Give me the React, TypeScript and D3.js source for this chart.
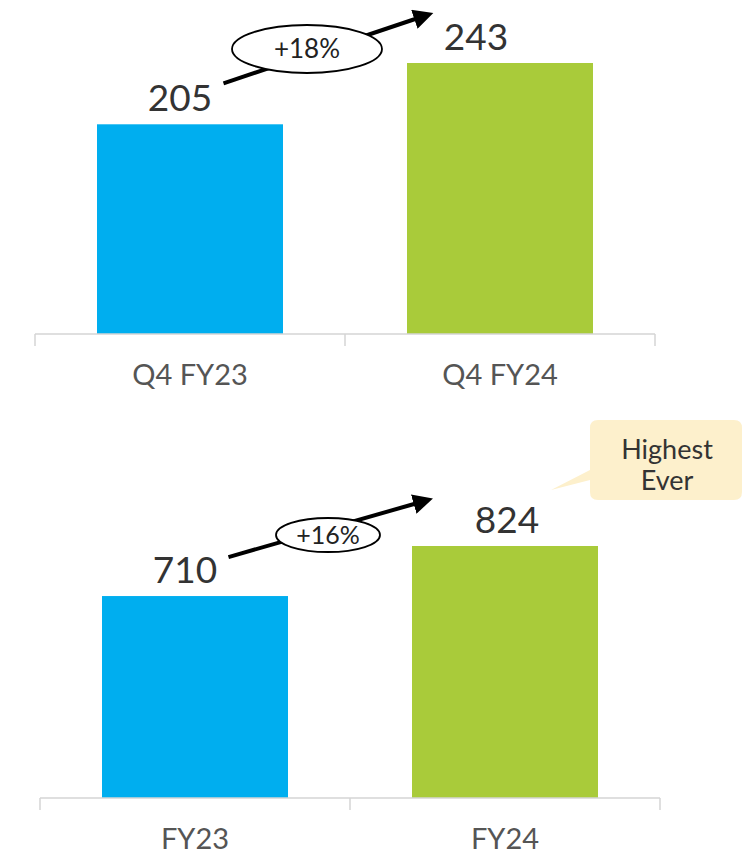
import React from "react";
import * as d3 from "d3";

const quarterCategories = ["Q4 FY23", "Q4 FY24"];
const quarterValues = [205, 243];
const quarterGrowth = "+18%";

const yearCategories = ["FY23", "FY24"];
const yearValues = [710, 824];
const yearGrowth = "+16%";

const calloutLines = ["Highest", "Ever"];

const BAR_COLORS = ["#00aeef", "#a9cb3a"];
const FONT = "Lato, 'Open Sans', sans-serif";

type PanelProps = {
  cats: string[];
  vals: number[];
  growth: string;
  x0: number;
  x1: number;
  axisY: number;
  topY: number;
  yMin: number;
  labelDx: number[];
  arrow: { sx: number; sdy: number; ex: number; edy: number };
  ell: { cx: number; cy: number; rx: number; ry: number; fs: number };
  markerId: string;
};

function Panel(p: PanelProps) {
  const x = d3.scaleBand<string>().domain(p.cats).range([p.x0, p.x1]).paddingInner(0.4).paddingOuter(0.2);
  const y = d3.scaleLinear().domain([p.yMin, d3.max(p.vals) as number]).range([p.axisY, p.topY]);
  const bw = x.bandwidth();
  const sx = (x(p.cats[0]) as number) + bw * p.arrow.sx;
  const sy = y(p.vals[0]) + p.arrow.sdy;
  const ex = (x(p.cats[1]) as number) + bw * p.arrow.ex;
  const ey = y(p.vals[1]) + p.arrow.edy;
  const mid = (p.x0 + p.x1) / 2;
  return (
    <g>
      {p.cats.map((c, i) => (
        <rect key={c} x={x(c)} y={y(p.vals[i])} width={bw} height={p.axisY - y(p.vals[i])} fill={BAR_COLORS[i]} />
      ))}
      <line x1={p.x0} x2={p.x1} y1={p.axisY} y2={p.axisY} stroke="#d4d4d4" strokeWidth={1.5} />
      {[p.x0, mid, p.x1].map((tx) => (
        <line key={tx} x1={tx} x2={tx} y1={p.axisY} y2={p.axisY + 12} stroke="#d4d4d4" strokeWidth={1.5} />
      ))}
      {p.cats.map((c) => (
        <text key={c} x={(x(c) as number) + bw / 2} y={p.axisY + 51} textAnchor="middle" fontSize={29} fill="#555" fontFamily={FONT}>
          {c}
        </text>
      ))}
      {p.cats.map((c, i) => (
        <text key={c} x={(x(c) as number) + bw / 2 + p.labelDx[i]} y={y(p.vals[i]) - 13} textAnchor="middle" fontSize={37} fill="#333" fontFamily={FONT}>
          {p.vals[i]}
        </text>
      ))}
      <line x1={sx} y1={sy} x2={ex} y2={ey} stroke="#000" strokeWidth={4} markerEnd={`url(#${p.markerId})`} />
      <ellipse cx={p.ell.cx} cy={p.ell.cy} rx={p.ell.rx} ry={p.ell.ry} fill="#fff" stroke="#000" strokeWidth={1.8} />
      <text x={p.ell.cx} y={p.ell.cy + p.ell.fs * 0.36} textAnchor="middle" fontSize={p.ell.fs} fill="#222" fontFamily={FONT}>
        {p.growth}
      </text>
    </g>
  );
}

export default function App() {
  const W = 743;
  const H = 857;
  return (
    <svg width={W} height={H} style={{ display: "block", position: "absolute", left: 0, top: 0 }}>
      <defs>
        {["arrA", "arrB"].map((id) => (
          <marker key={id} id={id} viewBox="0 0 10 10" refX={2} refY={5} markerWidth={5} markerHeight={5} orient="auto" markerUnits="strokeWidth">
            <path d="M0,0 L10,5 L0,10 z" fill="#000" />
          </marker>
        ))}
      </defs>
      <rect width={W} height={H} fill="#fff" />
      <Panel
        cats={quarterCategories}
        vals={quarterValues}
        growth={quarterGrowth}
        x0={35}
        x1={655}
        axisY={334}
        topY={63}
        yMin={75}
        labelDx={[-10, -24]}
        arrow={{ sx: 0.68, sdy: -41, ex: 0.06, edy: -45 }}
        ell={{ cx: 307, cy: 49, rx: 75, ry: 24, fs: 26 }}
        markerId="arrA"
      />
      <Panel
        cats={yearCategories}
        vals={yearValues}
        growth={yearGrowth}
        x0={40}
        x1={660}
        axisY={798}
        topY={546}
        yMin={250}
        labelDx={[-10, 2]}
        arrow={{ sx: 0.68, sdy: -39, ex: 0.03, edy: -43 }}
        ell={{ cx: 328, cy: 535, rx: 52, ry: 17, fs: 25 }}
        markerId="arrB"
      />
      <path d="M598,420 H734 Q742,420 742,428 V492 Q742,500 734,500 H598 Q590,500 590,492 V480 L551,490 L590,470 V428 Q590,420 598,420 Z" fill="#fdf0cc" />
      {calloutLines.map((t, i) => (
        <text key={t} x={667} y={459 + i * 31} textAnchor="middle" fontSize={27} fill="#333" fontFamily={FONT}>
          {t}
        </text>
      ))}
    </svg>
  );
}
